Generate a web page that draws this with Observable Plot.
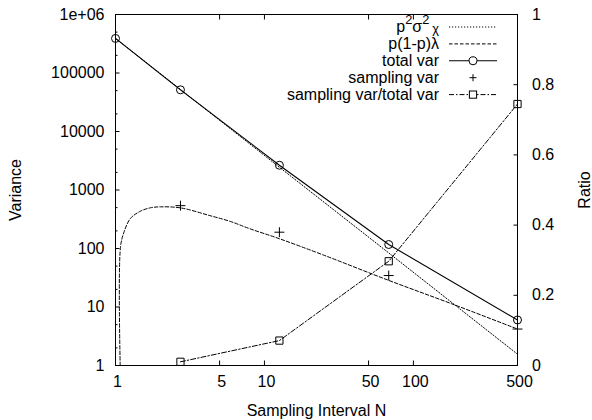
<!DOCTYPE html>
<html>
<head>
<meta charset="utf-8">
<script src="https://cdn.jsdelivr.net/npm/d3@7"></script>
<script src="https://cdn.jsdelivr.net/npm/@observablehq/plot@0.6"></script>
<style>
  body { margin: 0; background: #fff; }
  #chart { position: relative; width: 592px; height: 420px; }
  #chart svg { position: absolute; left: 0; top: 0; }
</style>
</head>
<body>
<div id="chart"></div>
<script>
// ---- data ----
const totalN = [1, 2.73, 12.6, 68.3, 500];
const totalVar = [390000, 51600, 2650, 117, 6.0];

const samplingN = [2.73, 12.6, 68.3, 500];
const samplingVar = [540, 190, 34.5, 4.2];
const ratioVal = [0.0105, 0.071, 0.297, 0.745];

const signalN = [1, 2.73, 12.6, 68.3, 500];
const signalVar = [390000, 52300, 2450, 84, 1.56];

const binomN = [1.075, 1.08, 1.14, 1.26, 1.47, 1.72, 2.0, 2.73, 4.3, 5.9, 8.0, 12.6, 25, 68.3, 180, 500];
const binomVar = [1, 105, 190, 326, 434, 497, 515, 495, 365, 290, 217, 147, 77, 28.5, 11.4, 4.2];

const xTicks = [1, 5, 10, 50, 100, 500];
const xTickLabels = ["1", "5", "10", "50", "100", "500"];
const yTicks = [1, 10, 100, 1000, 10000, 100000, 1000000];
const yTickLabels = ["1", "10", "100", "1000", "10000", "100000", "1e+06"];
const yMinorTicks = [2, 5, 20, 50, 200, 500, 2000, 5000, 20000, 50000, 200000, 500000];
const y2Ticks = [0, 0.2, 0.4, 0.6, 0.8, 1];
const y2TickLabels = ["0", "0.2", "0.4", "0.6", "0.8", "1"];

// ---- tables ----
const total = totalN.map((n, i) => ({n, v: totalVar[i]}));
const sampling = samplingN.map((n, i) => ({n, v: samplingVar[i]}));
const ratio = samplingN.map((n, i) => ({n, r: ratioVal[i]}));
const signal = signalN.map((n, i) => ({n, v: signalVar[i]}));
const binom = binomN.map((n, i) => ({n, v: binomVar[i]}));

const W = 592, H = 420;
const margins = {marginTop: 14, marginRight: 75, marginBottom: 55, marginLeft: 115};
const font = '"Liberation Sans", Arial, Helvetica, sans-serif';
const baseStyle = {fontFamily: font, fontSize: "16px", color: "black", background: "transparent", overflow: "visible"};

const main = Plot.plot({
  width: W, height: H, ...margins,
  style: {...baseStyle, background: "white"},
  x: {type: "log", domain: [1, 500]},
  y: {type: "log", domain: [1, 1e6]},
  marks: [
    Plot.axisX(xTicks, {ticks: Infinity, tickSize: 0, tickPadding: 10, dx: 2,
      tickFormat: d => xTickLabels[xTicks.indexOf(d)],
      label: "Sampling Interval N", labelAnchor: "center", labelArrow: "none", labelOffset: 50}),
    Plot.axisX(xTicks, {tickSize: -4.5, fill: "none", label: null}),
    Plot.axisX(xTicks, {anchor: "top", tickSize: -4.5, fill: "none", label: null}),
    Plot.axisY(yTicks, {ticks: Infinity, tickSize: 0, tickPadding: 11,
      tickFormat: d => yTickLabels[yTicks.indexOf(d)],
      label: "Variance", labelAnchor: "center", labelArrow: "none", labelOffset: 106}),
    Plot.axisY(yTicks, {tickSize: -4.5, fill: "none", label: null}),
    Plot.axisY(yMinorTicks, {tickSize: -2.5, fill: "none", label: null}),
    Plot.line(signal, {x: "n", y: "v", stroke: "black", strokeWidth: 1, strokeDasharray: "1.2,1.8"}),
    Plot.line(binom, {x: "n", y: "v", stroke: "black", strokeWidth: 1, strokeDasharray: "3.5,2", curve: "catmull-rom"}),
    Plot.line(total, {x: "n", y: "v", stroke: "black", strokeWidth: 1.1}),
    Plot.dot(total, {x: "n", y: "v", symbol: "circle", r: 4, stroke: "black", fill: "none", strokeWidth: 1}),
    Plot.dot(sampling, {x: "n", y: "v", symbol: "plus", r: 3.3, stroke: "black", strokeWidth: 1}),
    Plot.frame({stroke: "black", strokeWidth: 1})
  ]
});

const right = Plot.plot({
  width: W, height: H, ...margins,
  style: baseStyle,
  x: {type: "log", domain: [1, 500], axis: null},
  y: {domain: [0, 1]},
  marks: [
    Plot.axisY(y2Ticks, {anchor: "right", tickSize: 0, tickPadding: 14.5,
      tickFormat: d => y2TickLabels[y2Ticks.indexOf(d)],
      label: "Ratio", labelAnchor: "center", labelArrow: "none", labelOffset: 72}),
    Plot.axisY(y2Ticks, {anchor: "right", tickSize: -4.5, fill: "none", label: null}),
    Plot.line(ratio, {x: "n", y: "r", stroke: "black", strokeWidth: 1, strokeDasharray: "5,2,1.5,2"}),
    Plot.dot(ratio, {x: "n", y: "r", symbol: "square2", r: 4.6, stroke: "black", fill: "none", strokeWidth: 1})
  ]
});

const chart = document.getElementById("chart");
chart.appendChild(main);
chart.appendChild(right);

// ---- legend (top right, inside frame) ----
const legendItems = [
  {key: "signal", dash: "1.2,1.8", mark: null},
  {key: "binom", label: "p(1-p)λ", dash: "3.5,2", mark: null},
  {key: "total", label: "total var", dash: null, mark: "circle"},
  {key: "sampling", label: "sampling var", dash: "none", mark: "plus"},
  {key: "ratio", label: "sampling var/total var", dash: "5,2,1.5,2", mark: "square"}
];
const lg = d3.select(right).append("g")
  .attr("font-family", font).attr("font-size", 16).attr("fill", "black");
const rowY = [27, 43.9, 60.8, 77.7, 94.6];
const textX = 439, lineX1 = 449, lineX2 = 497, markX = 473;
legendItems.forEach((it, i) => {
  const y = rowY[i];
  const t = lg.append("text").attr("x", textX).attr("y", y + 5).attr("text-anchor", "end");
  if (it.key === "signal") {
    t.append("tspan").text("p");
    t.append("tspan").attr("dy", -8).attr("font-size", 12.8).text("2");
    t.append("tspan").attr("dy", 8).text("σ");
    t.append("tspan").attr("dy", -8).attr("font-size", 12.8).text("2");
    t.append("tspan").attr("dy", 9).attr("dx", 3).attr("font-size", 12.8).text("χ");
  } else {
    t.text(it.label);
  }
  if (it.dash !== "none") {
    const l = lg.append("line").attr("x1", lineX1).attr("x2", lineX2).attr("y1", y).attr("y2", y)
      .attr("stroke", "black").attr("stroke-width", it.key === "total" ? 1.1 : 1);
    if (it.dash) l.attr("stroke-dasharray", it.dash);
  }
  if (it.mark === "circle") {
    lg.append("circle").attr("cx", markX).attr("cy", y).attr("r", 4).attr("fill", "white").attr("stroke", "black");
  } else if (it.mark === "plus") {
    lg.append("path").attr("d", `M${markX - 3.5},${y}H${markX + 3.5}M${markX},${y - 3.5}V${y + 3.5}`).attr("stroke", "black").attr("fill", "none");
  } else if (it.mark === "square") {
    lg.append("rect").attr("x", markX - 3.6).attr("y", y - 3.6).attr("width", 7.2).attr("height", 7.2).attr("fill", "white").attr("stroke", "black");
  }
});
</script>
</body>
</html>
